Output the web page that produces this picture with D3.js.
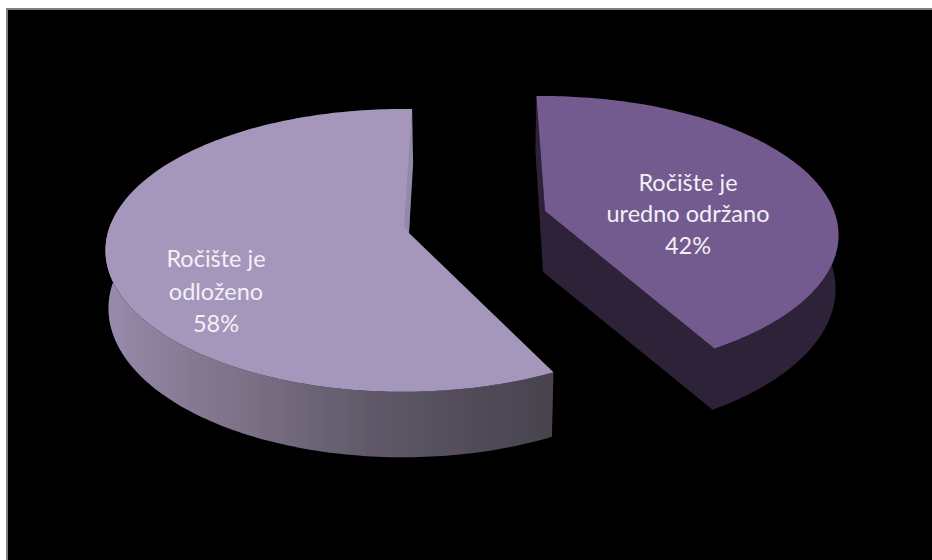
<!DOCTYPE html>
<html><head><meta charset="utf-8">
<script src="https://cdn.jsdelivr.net/npm/d3@7/dist/d3.min.js"></script>
<style>html,body{margin:0;background:#fff;overflow:hidden}svg{display:block}</style>
</head><body><svg id="c" width="932" height="560"></svg>
<script>
const categories = ["Ročište je uredno održano", "Ročište je odloženo"];
const values = [42, 58];
const labelLines = [["Ročište je", "uredno održano", "42%"], ["Ročište je", "odloženo", "58%"]];
const topColors = ["#735a8f", "#a596bb"];

const W = 932, H = 560;
const svg = d3.select("#c");
svg.append("rect").attr("x", 7).attr("y", 9).attr("width", W).attr("height", H).attr("fill", "#000")
  .attr("stroke", "#808080").attr("stroke-width", 2);

const defs = svg.append("defs");
const grad = defs.append("linearGradient").attr("id", "wallL").attr("gradientUnits", "userSpaceOnUse")
  .attr("x1", 105).attr("x2", 552).attr("y1", 0).attr("y2", 0);
[[0, "#9a8cae"], [0.12, "#8b7f9a"], [0.3, "#7d7288"], [0.6, "#5f5868"], [1, "#47424e"]]
  .forEach(s => grad.append("stop").attr("offset", s[0]).attr("stop-color", s[1]));
const blur = defs.append("filter").attr("id", "soft").attr("x", "-2%").attr("y", "-2%").attr("width", "104%").attr("height", "104%");
blur.append("feGaussianBlur").attr("stdDeviation", 0.6);

const rad = d => d * Math.PI / 180;
const pie = d3.pie().sort(null).startAngle(rad(-2.5)).endAngle(rad(357.5));
const arcs = pie(values);

// layout of each exploded slice
const layout = [
  { cx: 542, cy: 211, vx: 545, vy: 211, rx: 292, ry: 135, k: 0.174, depth: 52, shift: 1.2,
    wallFill: "#2d2338", sliver: "#2d2338", labelX: 688, labelY: [191, 222, 254] },
  { cx: 403, cy: 232, vx: 409, vy: 233, rx: 295, ry: 139, k: 0.13, depth: 57, shift: 4.5,
    wallFill: "url(#wallL)", sliver: "#9488ab", labelX: 216, labelY: [267, 300, 332] }
];
const sx = d3.scaleLinear().domain([-1, 1]);
const sy = d3.scaleLinear().domain([-1, 1]);
function project(L, deg) {
  const u = Math.sin(rad(deg)), v = Math.cos(rad(deg)), w = 1 + L.k * v;
  sx.range([L.cx - L.rx, L.cx + L.rx]); sy.range([L.cy + L.ry, L.cy - L.ry]);
  return { x: sx(u / w), y: sy(v / w), w };
}
const line = d3.line();

arcs.forEach((a, i) => {
  const L = layout[i];
  const a0 = a.startAngle * 180 / Math.PI + L.shift, a1 = a.endAngle * 180 / Math.PI + L.shift;
  const degs = d3.range(a0, a1, 1).concat([a1]);
  const rim = degs.map(d => project(L, d));
  const drop = p => [L.cx + (p.x - L.cx) * 0.99, p.y + L.depth / p.w];
  const V = [L.vx, L.vy], Vb = [L.vx - 2, L.vy + L.depth + 9];
  const first = rim[0], last = rim[rim.length - 1];
  const g = svg.append("g").attr("filter", "url(#soft)");

  if (i === 0) {
    const outer = rim.filter((p, j) => degs[j] > 60);
    const poly = outer.map(p => [p.x, p.y]).concat(outer.slice().reverse().map(drop));
    const top = [first.x, first.y];
    const walls = line(poly) + "Z" + line([V, [last.x, last.y], drop(last), Vb]) + "Z" + line([top, [top[0] - 1, top[1] + 54], Vb, V]) + "Z";
    g.append("path").attr("d", walls).attr("fill", L.wallFill).attr("fill-rule", "nonzero");
    g.append("path").attr("d", line([[last.x - 1, last.y], [last.x + 1, last.y], [drop(last)[0] + 1, drop(last)[1]], [drop(last)[0] - 1, drop(last)[1]]]) + "Z").attr("fill", L.wallFill);
  } else {
    const outer = rim.filter((p, j) => degs[j] < 275);
    const poly = outer.map(p => [p.x, p.y]).concat(outer.slice().reverse().map(drop));
    g.append("path").attr("d", line(poly) + "Z").attr("fill", L.wallFill);
  }

  const face = [V].concat(rim.map(p => [p.x, p.y]));
  g.append("path").attr("d", line(face) + "Z").attr("fill", topColors[i]);

  if (i === 1) {
    const top = [last.x, last.y];
    g.append("path").attr("d", line([top, [top[0] + 1, top[1] + 55], V, [V[0] - 5, V[1] - 7]]) + "Z")
      .attr("fill", L.sliver);
  }

  labelLines[i].forEach((t, j) => {
    svg.append("text").attr("x", L.labelX).attr("y", L.labelY[j]).attr("text-anchor", "middle")
      .attr("font-family", "Lato, 'Open Sans', sans-serif").attr("font-size", 23.5).attr("fill", "#f3f0f6").text(t);
  });
});
</script></body></html>
